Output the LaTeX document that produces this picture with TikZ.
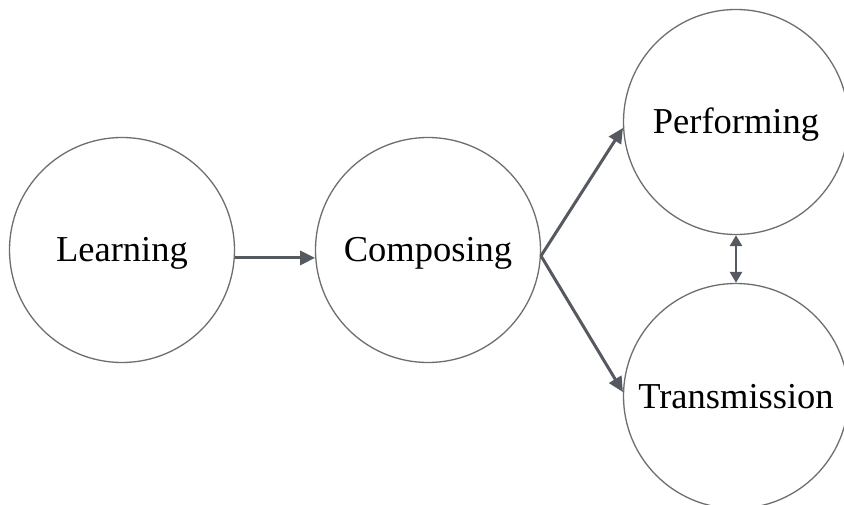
\documentclass[tikz,border=0pt]{standalone}
\usepackage{fontspec}
\setmainfont{Liberation Serif}
\usetikzlibrary{arrows.meta}
\definecolor{circ}{HTML}{6E6E6E}
\definecolor{arr}{HTML}{555A60}
\begin{document}
\begin{tikzpicture}[x=1pt,y=-1pt,
  bubble/.style={circle,draw=circ,line width=1.3pt,minimum size=225pt,inner sep=0pt,
    text height=24pt,text depth=0pt,
    font=\fontsize{36.5}{40}\selectfont},
  flow/.style={draw=arr,line width=3pt,-{Triangle[length=15pt,width=14pt]}},
  link/.style={draw=arr,line width=2.5pt,{Triangle[length=11pt,width=12pt]}-{Triangle[length=11pt,width=12pt]}}]
\useasboundingbox[fill=white] (0,0) rectangle (844,505);
\node[bubble] (L) at (122,250) {Learning};
\node[bubble] (C) at (428,250) {Composing};
\node[bubble] (P) at (736,122) {Performing};
\node[bubble] (T) at (736,396) {Transmission};
\draw[flow] (L.-4) -- (C.184);
\draw[flow] (C.-3) -- (P.183);
\draw[flow] (C.-3) -- (T.178.5);
\draw[link] (P.south) -- (T.north);
\end{tikzpicture}
\end{document}
